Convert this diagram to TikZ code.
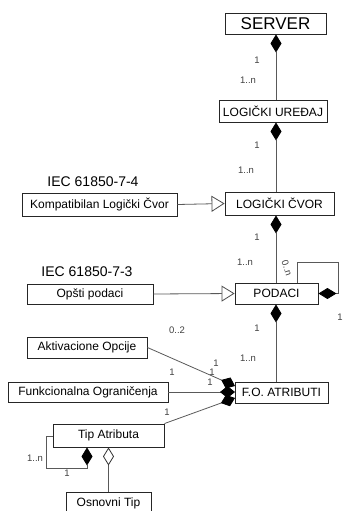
\documentclass[tikz,border=0pt]{standalone}
\usepackage{fontspec}
\setmainfont{Liberation Sans}
\usetikzlibrary{arrows.meta,calc}
\begin{document}
\begin{tikzpicture}[x=1pt,y=-1pt,
  box/.style={draw=black!85, line width=0.9pt, inner sep=0pt, fill=white,
    font=\fontsize{12}{12}\selectfont},
  lbl/.style={font=\fontsize{9.5}{9.5}\selectfont, text=black!75, inner sep=0pt},
  big/.style={font=\fontsize{14}{14}\selectfont, inner sep=0pt},
  conn/.style={draw=black!65, line width=0.8pt},
  comp/.style={{Diamond[length=18pt,width=11pt,color=black]}-},
  compsm/.style={{Diamond[length=15pt,width=12pt,color=black]}-},
  agg/.style={{Diamond[open,length=18pt,width=11pt,fill=white,color=black!80]}-},
  gen/.style={-{Triangle[open,length=13pt,width=16pt,fill=white,color=black!70]}}]
\useasboundingbox (0,0) rectangle (344,511);
\clip (0,0) rectangle (344,511);
\coordinate (axis) at (276,0);
% boxes
\node[box, minimum width=101pt, minimum height=21pt, font=\fontsize{17}{17}\selectfont] (server) at (275.5,23.5) {SERVER};
\node[box, minimum width=108pt, minimum height=22pt] (lu) at (273,111) {LOGIČKI UREĐAJ};
\node[box, minimum width=109pt, minimum height=23pt] (lc) at (279.5,203.5) {LOGIČKI ČVOR};
\node[box, minimum width=155pt, minimum height=23pt] (komp) at (99.5,204.5) {Kompatibilan Logički Čvor};
\node[box, minimum width=126pt, minimum height=20pt] (opsti) at (90,294) {Opšti podaci};
\node[box, minimum width=83pt, minimum height=21pt] (pod) at (276.5,293.5) {PODACI};
\node[box, minimum width=120pt, minimum height=21pt] (akt) at (87,347.5) {Aktivacione Opcije};
\node[box, minimum width=160pt, minimum height=20pt] (funk) at (88,392) {Funkcionalna Ograničenja};
\node[box, minimum width=93pt, minimum height=21pt] (fo) at (281.5,392.5) {F.O. ATRIBUTI};
\node[box, minimum width=111pt, minimum height=23pt] (tip) at (108.5,435.5) {Tip Atributa};
\node[box, minimum width=85pt, minimum height=23pt] (osn) at (108.5,503.5) {Osnovni Tip};
% headings
\node[big] (iec4) at (93,182) {IEC 61850-7-4};
\node[big] (iec3) at (87,272) {IEC 61850-7-3};
% vertical chain
\draw[conn, comp] (server.south -| axis) -- (lu.north -| axis);
\draw[conn, comp] (lu.south -| axis) -- (lc.north -| axis);
\draw[conn, comp] (lc.south -| axis) -- (pod.north -| axis);
\draw[conn, comp] (pod.south -| axis) -- (fo.north -| axis);
% generalisations
\draw[conn, gen] (komp.east) -- (lc.west);
\draw[conn, gen] (opsti.east) -- (pod.west);
% PODACI self loop
\coordinate (pl) at (338,262);
\coordinate (pt) at (297,262);
\draw[conn, comp] (pod.east) -| (pl) -- (pt) -- (pt |- pod.north);
% F.O. compositions
\coordinate (fa) at (235,386);
\coordinate (fb) at (235,392);
\coordinate (fc) at (235,398);
\draw[conn, compsm] (fa) -- (akt.east);
\draw[conn, compsm] (fb) -- (funk.east);
\draw[conn, compsm] (fc) -- (tip.north east);
% Tip Atributa self loop
\coordinate (td) at (87,0);
\coordinate (tl) at (46,436);
\coordinate (tb) at (46,468);
\draw[conn, comp] (tip.south -| td) -- (tb -| td) -- (tb) -- (tl) -- (tl -| tip.west);
% Osnovni Tip aggregation
\draw[conn, agg] (tip.south -| osn.north) -- (osn.north);
% multiplicities
\node[lbl] (m1) at (257,60) {1};
\node[lbl] (m2) at (248,80) {1..n};
\node[lbl] (m3) at (257,145) {1};
\node[lbl] (m4) at (246,170) {1..n};
\node[lbl] (m5) at (257,237) {1};
\node[lbl] (m6) at (245,262) {1..n};
\node[lbl, rotate=-72] (m7) at (287,268) {0..n};
\node[lbl] (m8) at (340,317) {1};
\node[lbl] (m9) at (257,328) {1};
\node[lbl] (m10) at (248,358) {1..n};
\node[lbl] (m11) at (177,330) {0..2};
\node[lbl] (m12) at (216,363) {1};
\node[lbl] (m13) at (212,372) {1};
\node[lbl] (m14) at (210,382) {1};
\node[lbl] (m15) at (172,372) {1};
\node[lbl] (m16) at (167,412) {1};
\node[lbl] (m17) at (35,458) {1..n};
\node[lbl] (m18) at (67,473) {1};
\end{tikzpicture}
\end{document}
